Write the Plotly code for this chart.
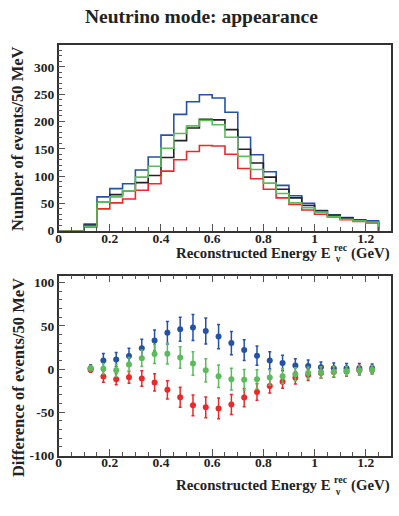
import numpy as np
import plotly.graph_objects as go

# 50 MeV bins from 0 to 1.25 GeV
bin_edges = np.round(np.arange(0, 1.2501, 0.05), 2)
bin_centres = np.round(bin_edges[:-1] + 0.025, 3)

# top panel: event counts per bin
counts_black = [0, 0, 10, 52, 66, 73, 88, 101, 134, 165, 188, 204, 203, 185, 149, 124, 98, 76, 60, 46, 36, 28, 23, 19, 16]
counts_blue = [0, 0, 12, 62, 77, 86, 111, 135, 175, 213, 236, 249, 243, 217, 171, 139, 108, 83, 64, 50, 37, 29, 24, 20, 18]
counts_green = [0, 0, 8, 52, 62, 73, 98, 118, 151, 178, 192, 202, 194, 171, 136, 112, 87, 68, 51, 42, 34, 26, 21, 18, 16]
counts_red = [0, 0, 7, 40, 51, 58, 74, 86, 109, 130, 145, 156, 155, 140, 114, 95, 76, 60, 48, 38, 30, 25, 20, 17, 14]

# bottom panel: differences (points from bin 0.1-0.15 onwards)
diff_x = bin_centres[2:]
diff_blue = [1, 10, 11, 15, 24, 33, 42, 46, 48, 44, 37.5, 30, 22, 15.5, 10, 7, 4, 3.4, 2, 1, 1, 0.8, 0.8]
err_blue = [4, 8, 8, 9, 10.5, 12, 13, 14, 15, 15, 14, 13.5, 12, 11, 10, 9, 8, 7, 6, 6, 5.5, 5.5, 5]
diff_green = [1, 0.4, -1.5, 5.3, 12.5, 17.4, 17.8, 13.3, 6.4, -1.5, -8.3, -11.7, -12.5, -11.7, -9.8, -8.3, -6, -4.5, -3.8, -3, -2.3, -1.5, -0.8]
err_green = [3, 6, 7, 8, 9.5, 11, 12, 12.5, 13.5, 13.5, 13, 12.5, 12, 11, 9, 8.5, 7.5, 7, 6.5, 6, 5.5, 5.5, 5]
diff_red = [-0.8, -8.7, -11.7, -9.5, -11, -15.5, -24, -32.6, -42, -44.3, -45.5, -41, -33, -26.5, -19.7, -14.8, -10.2, -6.8, -4.5, -3.4, -2.7, -1.5, -0.8]
err_red = [3, 6.5, 6.5, 7, 9, 10, 10.5, 11.5, 12, 12, 12, 11.5, 10.5, 9.5, 8, 7.5, 7, 6.5, 6, 6, 5.5, 5.5, 5]

x_ticks = [0, 0.2, 0.4, 0.6, 0.8, 1, 1.2]
x_ticklabels = ["0", "0.2", "0.4", "0.6", "0.8", "1", "1.2"]
top_yticks = [0, 50, 100, 150, 200, 250, 300]
bot_yticks = [-100, -50, 0, 50, 100]

BLUE = "#2452a6"
RED = "#ea2a2a"
GREEN = "#5dba5d"
BLACK = "#222222"
FONT = "Times New Roman"
INK = "#222"

fig = go.Figure()


def step(counts):
    xs = list(bin_edges) + [bin_edges[-1]]
    ys = list(counts) + [counts[-1], 0]
    return xs, ys


for counts, col in [(counts_blue, BLUE), (counts_black, BLACK), (counts_red, RED), (counts_green, GREEN)]:
    xs, ys = step(counts)
    fig.add_trace(go.Scatter(x=xs, y=ys, mode="lines", line=dict(color=col, width=1.6, shape="hv"),
                             xaxis="x", yaxis="y", showlegend=False))

for vals, errs, col in [(diff_blue, err_blue, BLUE), (diff_red, err_red, RED), (diff_green, err_green, GREEN)]:
    fig.add_trace(go.Scatter(x=diff_x, y=vals, mode="markers", marker=dict(color=col, size=6),
                             error_y=dict(type="data", array=errs, color=col, thickness=1.5, width=1.5),
                             xaxis="x2", yaxis="y2", showlegend=False))


def bold(vals):
    return [f"<b>{v}</b>" for v in vals]


tickfont = dict(family=FONT, size=13.5, color=INK)
xcommon = dict(range=[0, 1.3], tickvals=x_ticks, ticktext=bold(x_ticklabels),
               ticks="inside", ticklen=7, tickcolor="#555", showline=True, linecolor="#333", linewidth=1.5,
               showgrid=False, zeroline=False, tickfont=tickfont, domain=[0.1404, 0.9807], ticklabelstandoff=-6,
               minor=dict(dtick=0.05, tick0=0, ticks="inside", ticklen=4, tickcolor="#555"))
ycommon = dict(ticks="inside", ticklen=7, tickcolor="#555", showline=True, linecolor="#333", linewidth=1.5,
               showgrid=False, zeroline=False, tickfont=tickfont,
               minor=dict(dtick=10, ticks="inside", ticklen=4, tickcolor="#555"))


def label(text, x, y, size=16.5, **kw):
    return dict(text=f"<b>{text}</b>", x=x / 399, y=1 - y / 516, xref="paper", yref="paper", showarrow=False,
                font=dict(family=FONT, size=size, color=INK), **kw)


def energy_title(y):
    # x-axis title built from pieces so the super/subscript stack like in ROOT
    return [
        label("Reconstructed Energy E", 333, y, size=14.8, xanchor="right", yanchor="middle"),
        label("rec", 331, y - 6, size=10, xanchor="left", yanchor="middle"),
        label("ν", 332, y + 6.5, size=9.5, xanchor="left", yanchor="middle"),
        label("(GeV)", 392, y, size=14.8, xanchor="right", yanchor="middle"),
    ]


fig.update_layout(
    width=399, height=516,
    margin=dict(l=0, r=0, t=0, b=0),
    paper_bgcolor="white", plot_bgcolor="white",
    xaxis=dict(xcommon, anchor="y", mirror=True),
    yaxis=dict(ycommon, range=[0, 340], tickvals=top_yticks, ticktext=bold(top_yticks), domain=[0.5459, 0.9114],
               anchor="x", mirror=True),
    xaxis2=dict(xcommon, anchor="y2", mirror="ticks"),
    yaxis2=dict(ycommon, range=[-100, 108], tickvals=bot_yticks, ticktext=bold(bot_yticks), domain=[0.1033, 0.4574],
                anchor="x2", mirror=True),
    annotations=[
        label("Neutrino mode: appearance", 199.5, 17, size=19.5, xanchor="center", yanchor="middle"),
        *energy_title(257),
        *energy_title(493),
        label("Number of events/50 MeV", 15, 45.7, textangle=-90, xanchor="center", yanchor="top"),
        label("Difference of events/50 MeV", 15, 280, textangle=-90, xanchor="center", yanchor="top"),
    ],
)

# the page's default body margin would push the fixed-size figure off the window
fig.write_html("out.html", config={"displayModeBar": False},
               post_script="document.body.style.margin='0';")
